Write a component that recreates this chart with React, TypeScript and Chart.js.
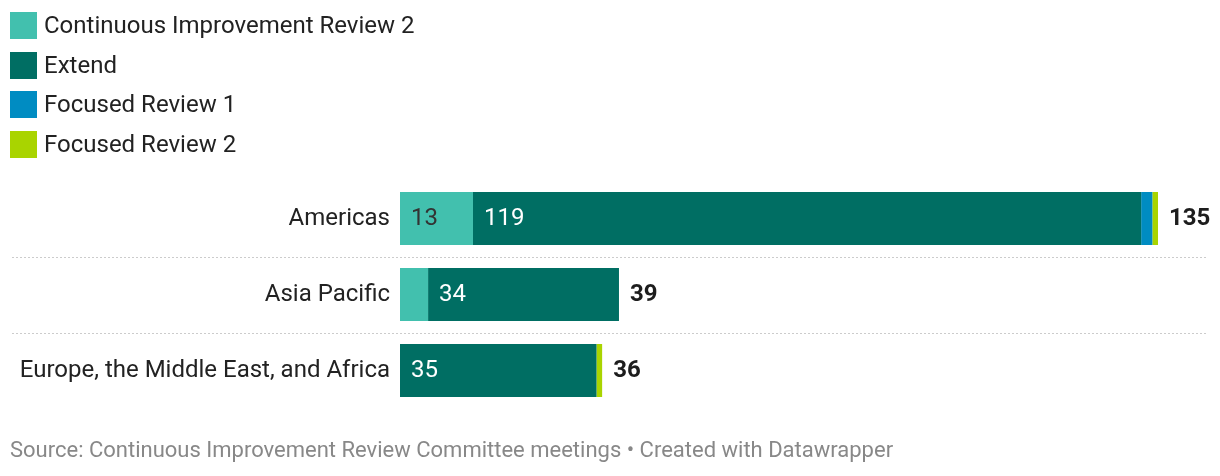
import React, { useEffect, useRef } from "react";
import { Chart, registerables } from "chart.js";

Chart.register(...registerables);

const categories = ["Americas", "Asia Pacific", "Europe, the Middle East, and Africa"];
const seriesNames = ["Continuous Improvement Review 2", "Extend", "Focused Review 1", "Focused Review 2"];
const cir2Values = [13, 5, 0];
const extendValues = [119, 34, 35];
const fr1Values = [2, 0, 0];
const fr2Values = [1, 0, 1];
const seriesColors = ["#42c0ae", "#006e63", "#008cc2", "#a9d400"];
const labelColors = ["#333333", "#ffffff", "#ffffff", "#333333"];
const xMax = 135;
const sourceText = "Source: Continuous Improvement Review Committee meetings • Created with Datawrapper";

const FONT = "Roboto, 'Noto Sans', sans-serif";
const SIZE = 24;

const labelsPlugin = {
  id: "dwLabels",
  afterDatasetsDraw(chart: any) {
    const ctx = chart.ctx;
    const y = chart.scales.y;
    ctx.save();
    // separators
    ctx.strokeStyle = "#cccccc";
    ctx.lineWidth = 1;
    ctx.setLineDash([2, 2]);
    for (let i = 0; i < categories.length - 1; i++) {
      const py = Math.round((y.getPixelForValue(i) + y.getPixelForValue(i + 1)) / 2) + 0.5;
      ctx.beginPath();
      ctx.moveTo(12, py);
      ctx.lineTo(1208, py);
      ctx.stroke();
    }
    ctx.setLineDash([]);
    // in-bar labels
    ctx.textBaseline = "middle";
    ctx.textAlign = "left";
    ctx.font = `${SIZE}px ${FONT}`;
    chart.data.datasets.forEach((ds: any, di: number) => {
      const meta = chart.getDatasetMeta(di);
      meta.data.forEach((bar: any, i: number) => {
        const v = ds.data[i];
        if (!v) return;
        const left = Math.min(bar.x, bar.base);
        const w = Math.abs(bar.x - bar.base);
        const text = String(v);
        const tw = ctx.measureText(text).width;
        if (tw + 20 > w) return;
        ctx.fillStyle = labelColors[di];
        ctx.fillText(text, left + 11, bar.y);
      });
    });
    // totals
    ctx.font = `bold ${SIZE}px ${FONT}`;
    ctx.fillStyle = "#1d1d1d";
    const xs = chart.scales.x;
    categories.forEach((_, i) => {
      const total = cir2Values[i] + extendValues[i] + fr1Values[i] + fr2Values[i];
      ctx.fillText(String(total), xs.getPixelForValue(total) + 11, y.getPixelForValue(i));
    });
    ctx.restore();
  },
};

export default function App() {
  const ref = useRef<HTMLCanvasElement | null>(null);
  useEffect(() => {
    if (!ref.current) return;
    const values = [cir2Values, extendValues, fr1Values, fr2Values];
    const chart = new Chart(ref.current, {
      type: "bar",
      data: {
        labels: categories,
        datasets: seriesNames.map((name, i) => ({
          label: name,
          data: values[i],
          backgroundColor: seriesColors[i],
          borderWidth: 0,
          barPercentage: 53 / 76,
          categoryPercentage: 1,
        })),
      },
      options: {
        indexAxis: "y",
        animation: false,
        responsive: false,
        maintainAspectRatio: false,
        layout: { padding: { left: 0, right: 62, top: 180.5, bottom: 67.5 } },
        plugins: { legend: { display: false }, tooltip: { enabled: false } },
        scales: {
          x: { stacked: true, display: false, min: 0, max: xMax },
          y: {
            stacked: true,
            grid: { display: false, drawTicks: false },
            border: { display: false },
            ticks: { padding: 10, color: "#222222", font: { size: SIZE, family: FONT } },
            afterFit: (s: any) => {
              s.width = 400;
            },
          },
        },
      },
      plugins: [labelsPlugin],
    });
    return () => chart.destroy();
  }, []);

  return (
    <div style={{ position: "fixed", left: 0, top: 0, width: 1220, height: 476, background: "#fff", fontFamily: FONT }}>
      <canvas ref={ref} width={1220} height={476} style={{ position: "absolute", left: 0, top: 0, width: 1220, height: 476 }} />
      <div style={{ position: "absolute", left: 10, top: 12 }}>
        {seriesNames.map((name, i) => (
          <div key={name} style={{ display: "flex", alignItems: "center", height: 27, marginBottom: 12.7 }}>
            <span style={{ display: "inline-block", width: 27, height: 27, background: seriesColors[i], marginRight: 7, flex: "none" }} />
            <span style={{ fontSize: SIZE, color: "#222222", lineHeight: "27px", whiteSpace: "nowrap" }}>{name}</span>
          </div>
        ))}
      </div>
      <div style={{ position: "absolute", left: 10, top: 437, fontSize: 22, color: "#888888", lineHeight: "26px", whiteSpace: "nowrap" }}>
        {sourceText}
      </div>
    </div>
  );
}
